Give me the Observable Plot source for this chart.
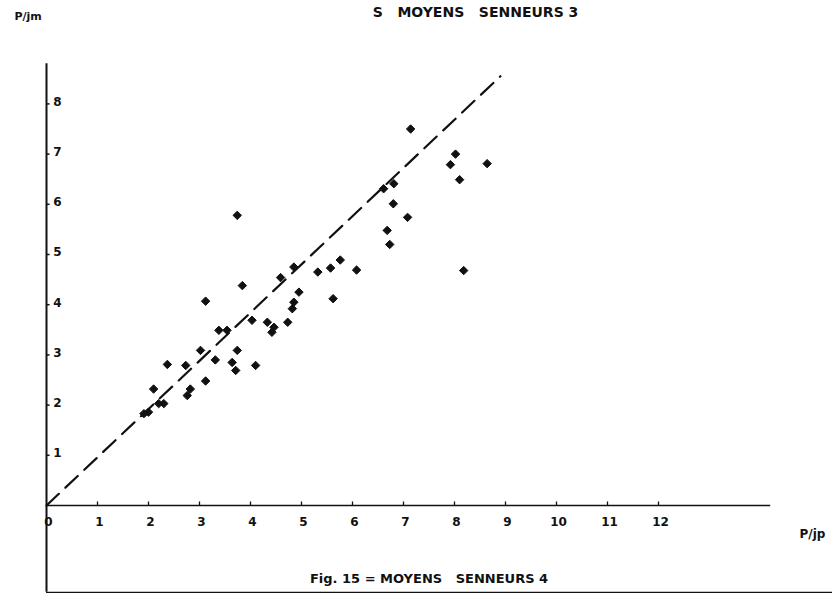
<!DOCTYPE html>
<html>
<head>
<meta charset="utf-8">
<script src="https://cdn.jsdelivr.net/npm/d3@7"></script>
<script src="https://cdn.jsdelivr.net/npm/@observablehq/plot@0.6"></script>
<style>
  html, body { margin: 0; padding: 0; background: #fff; }
  #chart svg { display: block; background: #fff; }
</style>
</head>
<body>
<div id="chart"></div>
<script>
// ---- data ----
const xValues = [1.91, 2.00, 2.20, 2.30, 2.10, 2.37, 2.73, 2.82, 2.76, 3.12,
                 3.02, 3.31, 3.64, 3.71, 4.10, 3.74, 3.38, 3.54, 3.12, 3.84,
                 3.74, 4.03, 4.33, 4.46, 4.42, 4.73, 4.59, 4.85, 4.95, 4.85,
                 4.82, 5.32, 5.57, 5.76, 6.08, 5.62, 6.61, 6.81, 6.80, 7.08,
                 6.68, 6.73, 7.14, 8.02, 7.92, 8.64, 8.10, 8.18];
const yValues = [1.83, 1.86, 2.03, 2.03, 2.32, 2.81, 2.79, 2.32, 2.19, 2.48,
                 3.09, 2.90, 2.85, 2.69, 2.79, 3.09, 3.49, 3.49, 4.07, 4.38,
                 5.78, 3.69, 3.65, 3.55, 3.45, 3.65, 4.54, 4.75, 4.25, 4.05,
                 3.92, 4.65, 4.73, 4.89, 4.69, 4.12, 6.31, 6.41, 6.01, 5.74,
                 5.48, 5.20, 7.50, 7.00, 6.79, 6.81, 6.49, 4.68];
const fitLine = [{x: 0, y: 0}, {x: 8.9, y: 8.55}];
const xTicks = [0,1,2,3,4,5,6,7,8,9,10,11,12];
const yTicks = [1,2,3,4,5,6,7,8];
const xAxisEnd = 14.2;
const yAxisTop = 8.8;
const frameBottom = -1.73;
const xLabel = "P/jp";
const yLabel = "P/jm";
const caption = "Fig. 15 = MOYENS   SENNEURS 4";
const topTitle = "S   MOYENS   SENNEURS 3";

const points = xValues.map((x, i) => ({x, y: yValues[i]}));
const ink = "#111";
const font = "'DejaVu Sans', sans-serif";

const chart = Plot.plot({
  width: 832,
  height: 604,
  marginLeft: 46,
  marginRight: 0,
  marginTop: 0,
  marginBottom: 99,
  x: {domain: [0, 786 / 51], axis: null},
  y: {domain: [0, 505 / 50.2], axis: null},
  style: {fontFamily: font, color: ink, background: "#fff", overflow: "visible"},
  marks: [
    // frame lines
    Plot.ruleX([0], {y1: frameBottom, y2: yAxisTop, stroke: ink, strokeWidth: 2}),
    Plot.ruleY([frameBottom], {x1: 0, x2: 786 / 51, stroke: ink, strokeWidth: 1.3}),
    Plot.ruleY([0], {x1: 0, x2: xAxisEnd, stroke: ink, strokeWidth: 1.6}),
    // ticks
    Plot.ruleX(xTicks.slice(1), {x: d => d, y1: 0, y2: 0.07, stroke: ink, strokeWidth: 1.3}),
    Plot.ruleY(yTicks, {y: d => d, x1: 0, x2: 0.07, stroke: ink, strokeWidth: 1.5}),
    // tick labels
    Plot.text(xTicks, {x: d => d, y: 0, text: d => String(d), dy: 17, dx: 2,
      fontSize: 12, fontWeight: "bold", fill: ink}),
    Plot.text(yTicks, {x: 0, y: d => d, text: d => String(d), dx: 11, dy: -2,
      fontSize: 12, fontWeight: "bold", fill: ink}),
    // axis labels
    Plot.text([xLabel], {x: 786 / 51, y: 0, text: d => d, dx: -20, dy: 29,
      fontSize: 12, fontWeight: "bold", fill: ink, textAnchor: "middle"}),
    Plot.text([yLabel], {frameAnchor: "top-left", text: d => d, dx: -32, dy: 12,
      fontSize: 11, fontWeight: "bold", fill: ink}),
    // top title and caption
    Plot.text([topTitle], {frameAnchor: "top", text: d => d, dx: 36, dy: 7,
      fontSize: 14, fontWeight: "bold", fill: ink, letterSpacing: 5}),
    Plot.text([caption], {x: 7.5, y: frameBottom, text: d => d, dy: -14,
      fontSize: 13, fontWeight: "bold", fill: ink, letterSpacing: 2.5}),
    // fitted dashed line
    Plot.line(fitLine, {x: "x", y: "y", stroke: ink, strokeWidth: 2.2,
      strokeDasharray: "17,9"}),
    // observations
    Plot.dot(points, {x: "x", y: "y", symbol: "diamond2", r: 3.8, fill: ink, stroke: ink, strokeWidth: 1})
  ]
});
document.getElementById("chart").appendChild(chart);
</script>
</body>
</html>
